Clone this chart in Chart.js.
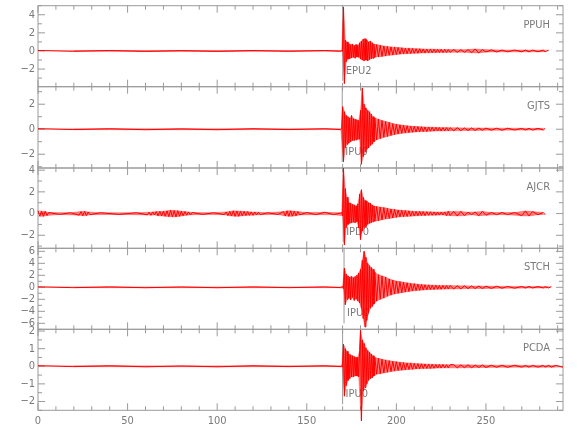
<!DOCTYPE html>
<html>
<head>
<meta charset="utf-8">
<title>Seismograms</title>
<script src="https://cdn.jsdelivr.net/npm/chart.js@4.4.0/dist/chart.umd.min.js"></script>
<style>
  html, body { margin: 0; padding: 0; background: #fff; }
  #wrap { position: relative; width: 580px; height: 440px; overflow: hidden; }
  #wrap canvas { position: absolute; left: 0; }
</style>
</head>
<body>
<div id="wrap"></div>
<script>
const stations = ["PPUH", "GJTS", "AJCR", "STCH", "PCDA"];
const pickNames = ["EPU2", "IPU0", "IPD0", "IPU0", "IPU0"];
const pickTimes = [170.1, 169.8, 170.3, 170.8, 170.0];

// y axis ranges and ticks per panel
const yMin = [-3.95, -3.1, -3.2, -7, -2.5];
const yMax = [5.0, 3.4, 4.2, 6.5, 2.1];
const yStep = [2, 2, 2, 2, 1];
const yMinor = [1, 1, 1, 1, 0.5];

// x axis
const xMin = 0;
const xMax = 293;
const xStep = 50;
const xMinor = 10;

// sample times (s) before the first arrival
const quietTimes = [0, 20, 40, 60, 80, 100, 120, 140, 160, 169, 169.5];
const ajcrPreTimes = [
  0, 1, 2, 3, 4, 5, 6, 12, 18,
  23, 24, 25, 26, 27, 28, 29, 35, 45, 55,
  61, 62, 63, 64, 65, 66, 67, 68, 69, 70, 71, 72, 73, 74, 75, 76, 77, 78, 79, 80, 81, 82, 83, 84, 85, 86,
  92, 98, 104,
  105, 106, 107, 108, 109, 110, 111, 112, 113, 114, 115, 116, 117, 118, 119, 120, 121, 122, 123, 124,
  128, 134,
  137, 138, 139, 140, 141, 142, 143, 144, 145, 146,
  150, 155, 160, 165, 169.5
];

// sample times (s) from the first arrival on, shared by all traces
const eventTimes = [
  170, 170.5, 171, 171.5, 172, 172.5, 173, 173.5, 174, 174.5, 175, 175.5, 176, 176.5, 177, 177.5, 178, 178.5, 179,
  179.5, 180, 180.5, 181, 181.5, 182, 182.5, 183, 183.5, 184, 184.5, 185, 185.5, 186, 186.5, 187, 187.5, 188,
  189, 190, 191, 192, 193, 194, 195, 196, 197, 198, 199, 200,
  201, 202, 203, 204, 205, 206, 207, 208, 209, 210,
  211, 212, 213, 214, 215, 216, 217, 218, 219, 220,
  221, 222, 223, 224, 225, 226, 227, 228, 229, 230,
  232, 234, 236, 238, 240, 242, 244, 246, 248, 250,
  253, 256, 259, 262, 266, 270, 272, 274, 276, 279, 282, 283, 285,
  286.5, 289, 293
];

// amplitudes (peaks and troughs)
const ppuhPre = [0.05, -0.04, 0.05, -0.05, 0.04, -0.05, 0.05, -0.04, 0.05, -0.04, 0.05];
const gjtsPre = [0.04, -0.03, 0.04, -0.04, 0.03, -0.04, 0.04, -0.03, 0.04, -0.03, 0.04];
const stchPre = [0.07, -0.06, 0.07, -0.07, 0.06, -0.07, 0.07, -0.06, 0.07, -0.06, 0.07];
const pcdaPre = [0.03, -0.02, 0.03, -0.03, 0.02, -0.03, 0.03, -0.02, 0.03, -0.02, 0.03];
const ajcrPre = [
  0.25, -0.25, 0.22, -0.25, 0.2, -0.18, 0.1, -0.08, 0.08,
  -0.15, 0.18, -0.2, 0.2, -0.18, 0.15, -0.1, 0.08, -0.08, 0.08,
  -0.12, 0.12, -0.15, 0.15, -0.12, 0.18, -0.2, 0.2, -0.22, 0.22, -0.25, 0.25, -0.28, 0.3, -0.3, 0.28, -0.3, 0.26, -0.25, 0.22, -0.2, 0.18, -0.15, 0.15, -0.12, 0.1,
  -0.08, 0.08, -0.1,
  0.15, -0.18, 0.2, -0.22, 0.25, -0.25, 0.24, -0.25, 0.22, -0.2, 0.2, -0.18, 0.18, -0.16, 0.15, -0.15, 0.14, -0.12, 0.12, -0.1,
  0.08, -0.08,
  0.18, -0.22, 0.25, -0.25, 0.25, -0.24, 0.22, -0.2, 0.18, -0.12,
  0.1, -0.1, 0.12, -0.1, 0.08
];

const ppuhEvent = [
  -0.05, 4.85, -3.6, 1.2, -1.2, 1.0, -0.9, 0.8, -0.85, 0.7, -0.75, 0.75, -0.7, 0.6, -0.8, 0.7, -0.65, 0.6, -0.7,
  0.9, -0.9, 1.1, -1.0, 1.3, -1.1, 1.35, -1.0, 1.2, -1.1, 1.0, -0.95, 1.1, -0.85, 0.9, -0.8, 0.75, -0.7,
  0.7, -0.65, 0.62, -0.6, 0.55, -0.55, 0.5, -0.48, 0.45, -0.45, 0.42, -0.4,
  0.38, -0.35, 0.35, -0.32, 0.3, -0.3, 0.3, -0.28, 0.28, -0.26,
  0.25, -0.25, 0.24, -0.22, 0.22, -0.22, 0.2, -0.2, 0.2, -0.19,
  0.19, -0.18, 0.18, -0.18, 0.17, -0.17, 0.16, -0.16, 0.16, -0.15,
  0.15, -0.15, 0.14, -0.15, 0.15, -0.2, 0.22, -0.22, 0.15, -0.12,
  0.12, -0.11, 0.1, -0.1, 0.1, -0.1, 0.1, -0.1, 0.09, -0.09, 0.09, -0.08, 0.08,
  null, null, null
];
const gjtsEvent = [
  1.8, -2.6, 1.4, -1.5, 1.1, -1.2, 1.0, -1.1, 0.9, -1.0, 1.1, -0.9, 0.85, -0.9, 0.8, -0.85, 0.75, -0.8, 0.7,
  -0.8, 1.5, -2.8, 3.3, -2.2, 2.0, -1.8, 1.7, -1.6, 1.5, -1.5, 1.4, -1.3, 1.2, -1.2, 1.0, -1.0, 0.9,
  -0.85, 0.8, -0.75, 0.7, -0.65, 0.62, -0.58, 0.55, -0.5, 0.45, -0.42, 0.4,
  -0.38, 0.35, -0.33, 0.32, -0.3, 0.28, -0.27, 0.25, -0.24, 0.23,
  -0.22, 0.21, -0.2, 0.2, -0.19, 0.18, -0.18, 0.17, -0.16, 0.16,
  -0.15, 0.15, -0.14, 0.14, -0.14, 0.13, -0.13, 0.13, -0.12, 0.12,
  -0.12, 0.12, -0.11, 0.1, -0.1, 0.1, -0.1, 0.09, -0.09, 0.09,
  -0.08, 0.08, -0.08, 0.08, -0.07, 0.07, -0.07, 0.07, -0.07, 0.07, -0.06, 0.06, null,
  null, null, null
];
const ajcrEvent = [
  -0.2, 4.2, -2.9, 2.3, -1.3, 1.5, -1.0, 1.0, -0.9, 0.95, -0.85, 0.85, -0.8, 0.8, -0.85, 0.7, -0.75, 0.9, -1.3,
  1.8, -2.4, 2.2, -1.6, 1.5, -1.3, 1.2, -1.2, 1.15, -1.0, 1.0, -0.9, 0.95, -0.85, 0.8, -0.75, 0.7, -0.7,
  0.65, -0.65, 0.6, -0.58, 0.55, -0.5, 0.48, -0.45, 0.42, -0.4, 0.38, -0.35,
  0.33, -0.3, 0.3, -0.28, 0.28, -0.26, 0.25, -0.24, 0.22, -0.22,
  0.2, -0.2, 0.2, -0.18, 0.18, -0.18, 0.17, -0.16, 0.16, -0.15,
  0.15, -0.15, 0.14, -0.14, 0.14, -0.13, 0.15, -0.18, 0.2, -0.18,
  0.2, -0.22, 0.2, -0.18, 0.12, -0.1, 0.15, -0.2, 0.2, -0.15,
  0.1, -0.1, 0.1, -0.1, 0.1, -0.2, 0.24, -0.22, 0.18, -0.1, 0.1, -0.08, null,
  null, null, null
];
const stchEvent = [
  0.1, -0.2, 3.2, -2.9, 2.2, -2.0, 1.9, -1.8, 1.7, -2.1, 1.8, -1.7, 1.6, -2.2, 1.8, -1.9, 2.0, -2.3, 2.4,
  -2.6, 3.0, -3.5, 4.5, -5.2, 6.0, -6.6, 5.0, -5.5, 4.0, -4.2, 3.6, -3.5, 3.3, -3.2, 3.0, -2.8, 2.5,
  -2.3, 2.1, -2.0, 1.9, -1.8, 1.7, -1.5, 1.4, -1.3, 1.2, -1.1, 1.05,
  -1.0, 0.95, -0.9, 0.85, -0.8, 0.75, -0.7, 0.65, -0.62, 0.6,
  -0.55, 0.52, -0.5, 0.48, -0.45, 0.42, -0.4, 0.4, -0.38, 0.36,
  -0.35, 0.34, -0.33, 0.32, -0.32, 0.3, -0.3, 0.3, -0.28, 0.28,
  -0.27, 0.26, -0.25, 0.24, -0.22, 0.22, -0.21, 0.2, -0.2, 0.19,
  -0.18, 0.17, -0.16, 0.15, -0.15, 0.14, -0.13, 0.13, -0.12, 0.12, -0.11, 0.11, -0.1,
  0.1, null, null
];
const pcdaEvent = [
  -0.05, 1.25, -1.7, 1.0, -1.1, 0.85, -0.8, 0.7, -0.7, 0.65, -0.6, 0.6, -0.6, 0.55, -0.55, 0.5, -0.55, 0.5, -0.6,
  0.9, 2.05, -3.1, 1.5, -1.4, 1.3, -1.2, 1.05, -1.0, 0.9, -0.8, 0.8, -0.7, 0.7, -0.65, 0.6, -0.55, 0.5,
  -0.45, 0.45, -0.42, 0.4, -0.38, 0.36, -0.34, 0.32, -0.3, 0.28, -0.27, 0.26,
  -0.24, 0.23, -0.22, 0.21, -0.2, 0.19, -0.18, 0.18, -0.17, 0.16,
  -0.15, 0.15, -0.14, 0.14, -0.13, 0.13, -0.12, 0.12, -0.12, 0.11,
  -0.11, 0.1, -0.1, 0.1, -0.1, 0.1, -0.09, 0.09, -0.09, 0.09,
  0.09, -0.09, 0.08, -0.08, 0.08, -0.08, 0.07, -0.07, 0.07, -0.07,
  0.06, -0.06, 0.06, -0.06, 0.06, -0.05, 0.05, -0.05, 0.05, -0.05, 0.05, -0.05, 0.05,
  -0.05, 0.05, -0.05
];

const preTimes = [quietTimes, quietTimes, ajcrPreTimes, quietTimes, quietTimes];
const preAmps = [ppuhPre, gjtsPre, ajcrPre, stchPre, pcdaPre];
const eventAmps = [ppuhEvent, gjtsEvent, ajcrEvent, stchEvent, pcdaEvent];

stations.forEach((s, i) => {
  if (preAmps[i].length !== preTimes[i].length) console.error(s, "pre", preAmps[i].length, preTimes[i].length);
  if (eventAmps[i].length !== eventTimes.length) console.error(s, "event", eventAmps[i].length, eventTimes.length);
});

// panel frame edges in page pixels
const panelTop = [5.7, 86.7, 168, 248.3, 329.3];
const panelBottom = [86.7, 168, 248.3, 329.3, 410.3];
const plotLeft = 38;
const plotRight = 563;
const margin = 20;

const axisColor = "#9a9a9a";
const textColor = "#7a7a7a";
const traceColor = "#ff0000";
const fontFamily = "'Liberation Sans Narrow', 'DejaVu Sans Condensed', 'Liberation Sans', sans-serif";

Chart.defaults.font.family = fontFamily;
Chart.defaults.font.size = 11;
Chart.defaults.color = textColor;

function minusLabel(v) {
  return v < 0 ? "\u2212" + Math.abs(v) : String(v);
}

// box, inward ticks, pick line and station names
const tracePanel = {
  id: "tracePanel",
  beforeDatasetsDraw(chart, args, opts) {
    const i = opts.index;
    const { ctx, chartArea: a } = chart;
    const x = chart.scales.x;
    const y = chart.scales.y;
    ctx.save();
    ctx.strokeStyle = axisColor;
    ctx.lineWidth = 1;
    ctx.strokeRect(a.left, a.top, a.right - a.left, a.bottom - a.top);

    ctx.beginPath();
    for (let v = xMin; v <= xMax; v += xMinor) {
      const px = x.getPixelForValue(v);
      const len = v % xStep === 0 ? 7 : 4;
      ctx.moveTo(px, a.top);
      ctx.lineTo(px, a.top + len);
      ctx.moveTo(px, a.bottom);
      ctx.lineTo(px, a.bottom - len);
    }
    const st = yMinor[i];
    for (let k = Math.ceil(y.min / st); k * st <= y.max; k++) {
      const v = k * st;
      const py = y.getPixelForValue(v);
      const r = v / yStep[i];
      const len = Math.abs(r - Math.round(r)) < 1e-6 ? 7 : 4;
      ctx.moveTo(a.left, py);
      ctx.lineTo(a.left + len, py);
      ctx.moveTo(a.right, py);
      ctx.lineTo(a.right - len, py);
    }
    ctx.stroke();

    // pick
    const pk = x.getPixelForValue(pickTimes[i]);
    ctx.beginPath();
    ctx.moveTo(pk, a.top);
    ctx.lineTo(pk, a.bottom - 6);
    ctx.stroke();

    ctx.fillStyle = textColor;
    ctx.font = "11px " + fontFamily;
    ctx.textBaseline = "middle";
    ctx.textAlign = "left";
    ctx.fillText(pickNames[i], pk + 3, a.bottom - 16);
    ctx.textAlign = "right";
    ctx.fillText(stations[i], 550, a.top + 19);
    ctx.restore();
  }
};

const wrap = document.getElementById("wrap");

stations.forEach((name, i) => {
  const last = i === stations.length - 1;
  const cTop = Math.floor(panelTop[i]) - margin;
  const cBottom = last ? 440 : Math.ceil(panelBottom[i]) + margin;
  const xAxisH = last ? 20 : 0;
  const canvas = document.createElement("canvas");
  canvas.width = 580;
  canvas.height = cBottom - cTop;
  canvas.style.top = cTop + "px";
  canvas.style.width = "580px";
  canvas.style.height = (cBottom - cTop) + "px";
  wrap.appendChild(canvas);

  const pts = preTimes[i].map((t, k) => ({ x: t, y: preAmps[i][k] }))
    .concat(eventTimes.map((t, k) => ({ x: t, y: eventAmps[i][k] })));
  // the peaks and the troughs bound the shaded band of the trace
  const peaks = pts.filter(p => p.y !== null && p.y >= 0);
  const troughs = pts.filter(p => p.y !== null && p.y < 0);

  const common = { pointRadius: 0, tension: 0, clip: false, spanGaps: false };

  new Chart(canvas, {
    type: "line",
    data: {
      datasets: [
        Object.assign({
          label: name,
          data: pts,
          borderColor: traceColor,
          borderWidth: 1,
          borderJoinStyle: "bevel",
          fill: false,
          order: 0
        }, common),
        Object.assign({
          label: name + " peaks",
          data: peaks,
          borderColor: "rgba(255, 0, 0, 0.5)",
          borderWidth: 0.6,
          backgroundColor: "rgba(255, 0, 0, 0.5)",
          fill: "+1",
          order: 1
        }, common),
        Object.assign({
          label: name + " troughs",
          data: troughs,
          borderColor: "rgba(255, 0, 0, 0.5)",
          borderWidth: 0.6,
          fill: false,
          order: 2
        }, common)
      ]
    },
    options: {
      responsive: false,
      animation: false,
      events: [],
      layout: {
        padding: {
          left: 0,
          right: 580 - plotRight,
          top: panelTop[i] - cTop,
          bottom: cBottom - panelBottom[i] - xAxisH
        }
      },
      plugins: {
        legend: { display: false },
        tooltip: { enabled: false },
        filler: { propagate: false },
        tracePanel: { index: i }
      },
      scales: {
        x: {
          type: "linear",
          min: xMin,
          max: xMax,
          display: last,
          grid: { display: false, drawTicks: false },
          border: { display: false },
          ticks: { stepSize: xStep, includeBounds: false, maxRotation: 0, padding: 4, autoSkip: false },
          afterFit: (s) => { s.height = xAxisH; }
        },
        y: {
          type: "linear",
          min: yMin[i],
          max: yMax[i],
          grid: { display: false, drawTicks: false },
          border: { display: false },
          ticks: { stepSize: yStep[i], includeBounds: false, padding: 3, autoSkip: false, callback: minusLabel },
          afterFit: (s) => { s.width = plotLeft; }
        }
      }
    },
    plugins: [tracePanel]
  });
});
</script>
</body>
</html>
